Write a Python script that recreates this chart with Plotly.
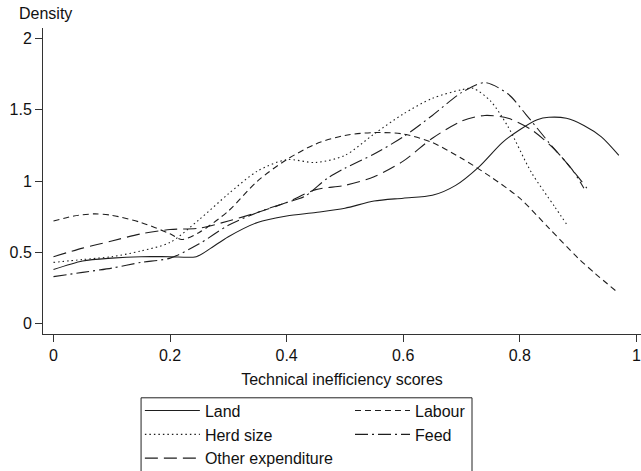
import plotly.graph_objects as go

# ---- data ----
land_x = [0, 0.05, 0.1, 0.15, 0.2, 0.245, 0.27, 0.3, 0.35, 0.4, 0.45, 0.5, 0.55, 0.6, 0.65, 0.69, 0.73, 0.77, 0.8, 0.83, 0.85, 0.88, 0.91, 0.94, 0.97]
land_y = [0.38, 0.44, 0.46, 0.47, 0.47, 0.47, 0.53, 0.61, 0.71, 0.755, 0.78, 0.81, 0.86, 0.88, 0.90, 0.97, 1.10, 1.27, 1.36, 1.43, 1.447, 1.44, 1.39, 1.31, 1.18]

labour_x = [0, 0.035, 0.07, 0.1, 0.15, 0.2, 0.22, 0.25, 0.3, 0.35, 0.4, 0.45, 0.5, 0.55, 0.6, 0.65, 0.7, 0.75, 0.8, 0.85, 0.9, 0.93, 0.965]
labour_y = [0.72, 0.755, 0.77, 0.76, 0.71, 0.63, 0.59, 0.64, 0.79, 1.0, 1.15, 1.26, 1.32, 1.34, 1.33, 1.27, 1.16, 1.03, 0.88, 0.67, 0.46, 0.35, 0.23]

herd_x = [0, 0.05, 0.1, 0.15, 0.2, 0.25, 0.3, 0.35, 0.4, 0.45, 0.5, 0.55, 0.6, 0.65, 0.7, 0.72, 0.75, 0.78, 0.82, 0.86, 0.88]
herd_y = [0.43, 0.45, 0.47, 0.51, 0.57, 0.73, 0.91, 1.07, 1.15, 1.13, 1.18, 1.33, 1.47, 1.58, 1.64, 1.65, 1.56, 1.38, 1.06, 0.82, 0.70]

feed_x = [0, 0.05, 0.1, 0.15, 0.2, 0.25, 0.3, 0.35, 0.4, 0.43, 0.47, 0.5, 0.55, 0.6, 0.65, 0.7, 0.74, 0.78, 0.81, 0.85, 0.89, 0.91]
feed_y = [0.33, 0.36, 0.39, 0.43, 0.46, 0.56, 0.69, 0.78, 0.85, 0.89, 1.02, 1.09, 1.19, 1.31, 1.46, 1.62, 1.69, 1.61, 1.47, 1.27, 1.08, 0.95]

other_x = [0, 0.05, 0.1, 0.15, 0.2, 0.25, 0.3, 0.35, 0.4, 0.45, 0.5, 0.55, 0.6, 0.65, 0.7, 0.74, 0.78, 0.82, 0.86, 0.9, 0.915]
other_y = [0.47, 0.53, 0.58, 0.63, 0.66, 0.67, 0.72, 0.78, 0.85, 0.94, 0.97, 1.03, 1.14, 1.30, 1.42, 1.46, 1.44, 1.36, 1.22, 1.03, 0.95]

x_ticks = [0, 0.2, 0.4, 0.6, 0.8, 1]
x_ticktext = ["0", "0.2", "0.4", "0.6", "0.8", "1"]
y_ticks = [0, 0.5, 1, 1.5, 2]
y_ticktext = ["0", "0.5", "1", "1.5", "2"]
grid_ticks = [0, 0.5, 1, 1.5]

FONT = "Liberation Sans, Arial, Helvetica, sans-serif"
LINE = "#1e1e1e"

series = [
    ("Land", land_x, land_y, "solid", "legend"),
    ("Labour", labour_x, labour_y, "6px,4px", "legend2"),
    ("Herd size", herd_x, herd_y, "1.5px,3px", "legend"),
    ("Feed", feed_x, feed_y, "13px,4px,2px,4px", "legend2"),
    ("Other expenditure", other_x, other_y, "13px,6px", "legend"),
]

fig = go.Figure()
for name, xs, ys, dash, lg in series:
    fig.add_trace(go.Scatter(
        x=xs, y=ys, mode="lines", name=name, legend=lg,
        line=dict(color=LINE, width=1.1, dash=dash, shape="spline", smoothing=0.8),
    ))

yr = [-0.072, 2.073]
fig.update_layout(
    width=641, height=471,
    margin=dict(l=43, r=0, t=28, b=137, autoexpand=False),
    paper_bgcolor="white", plot_bgcolor="white",
    font=dict(family=FONT, size=16, color="#111"),
    xaxis=dict(
        range=[-0.018, 1.008], tickvals=x_ticks, ticktext=x_ticktext,
        showgrid=False, zeroline=False, showline=True, linecolor="#333", linewidth=1,
        ticks="outside", ticklen=7, tickcolor="#333", tickwidth=1, automargin=False,
        ticklabeloverflow="allow",
        title=dict(text="Technical inefficiency scores", standoff=10, font=dict(size=16)),
    ),
    yaxis=dict(
        range=yr, tickvals=y_ticks, ticktext=y_ticktext, automargin=False,
        showgrid=False, zeroline=False, showline=True, linecolor="#333", linewidth=1,
        ticks="outside", ticklen=7, tickcolor="#333", tickwidth=1,
    ),
    yaxis2=dict(
        range=yr, overlaying="y", side="left", tickvals=grid_ticks, automargin=False,
        showgrid=True, gridcolor="#e8e8e8", gridwidth=1,
        showticklabels=False, ticks="", showline=False, zeroline=False,
    ),
    legend=dict(
        x=0.162, y=-0.195, xanchor="left", yanchor="top", orientation="v",
        bgcolor="rgba(0,0,0,0)", borderwidth=0, itemwidth=55,
        font=dict(size=16), tracegroupgap=0,
    ),
    legend2=dict(
        x=0.5134, y=-0.195, xanchor="left", yanchor="top", orientation="v",
        bgcolor="rgba(0,0,0,0)", borderwidth=0, itemwidth=55,
        font=dict(size=16), tracegroupgap=0,
    ),
    showlegend=True,
    shapes=[dict(type="rect", xref="paper", yref="paper",
                 x0=0.164, x1=0.7174, y0=-0.2085, y1=-0.6,
                 line=dict(color="#222", width=1), fillcolor="rgba(0,0,0,0)", layer="below")],
    annotations=[dict(text="Density", xref="paper", yref="paper", x=-0.043, y=1.049,
                      xanchor="left", yanchor="middle", showarrow=False, font=dict(size=16))],
)

# remove the browser's default 8px page margin so the figure sits at the window origin
fig.write_html("out.html", config={"displayModeBar": False},
               post_script="document.body.style.margin='0';")
